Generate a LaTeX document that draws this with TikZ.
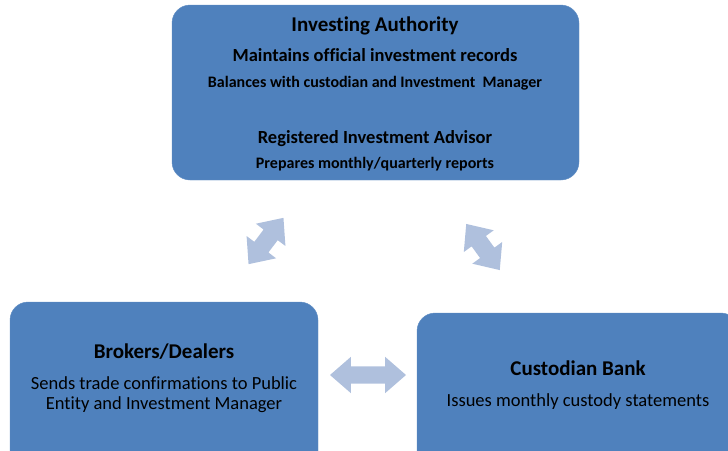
\documentclass[tikz,border=0pt]{standalone}
\usepackage{fontspec}
\setmainfont{Carlito}[Ligatures={NoCommon}]
\usetikzlibrary{shapes.arrows}

\definecolor{boxblue}{RGB}{79,129,189}
\definecolor{arrowblue}{RGB}{175,192,221}

\begin{document}
\begin{tikzpicture}[x=1pt, y=-1pt,
    box/.style={fill=boxblue, draw=boxblue!90!white, rounded corners=18pt, inner sep=0pt},
    twoway/.style={double arrow, fill=arrowblue, inner xsep=0pt, inner ysep=8.5pt,
                   double arrow head extend=9.5pt, double arrow tip angle=82},
    big/.style={anchor=base, font=\bfseries\fontsize{21}{24}\selectfont},
    mid/.style={anchor=base, font=\bfseries\fontsize{18.5}{22}\selectfont},
    small/.style={anchor=base, font=\bfseries\fontsize{16}{19}\selectfont},
    plain/.style={anchor=base, font=\fontsize{18.5}{22}\selectfont}]
    \clip (0,0) rectangle (728,450);

    % Investing Authority
    \node[box, minimum width=407pt, minimum height=175pt] (authority) at (375.5,92.5) {};
    \node[big] (authority_t) at (375,31) {Investing Authority};
    \node[mid] (records) at (375,61) {Maintains official investment records};
    \node[small] (balances) at (375,87.5) {Balances with custodian and Investment\ \ Manager};
    \node[mid] (advisor) at (375,143) {Registered Investment Advisor};
    \node[small] (reports) at (375,168) {Prepares monthly/quarterly reports};

    % Brokers/Dealers
    \node[box, minimum width=308pt, minimum height=170pt] (brokers) at (164,387) {};
    \node[big] (brokers_t) at (164,358) {Brokers/Dealers};
    \node[plain] (confirm1) at (164,389) {Sends trade confirmations to Public};
    \node[plain] (confirm2) at (164,409) {Entity and Investment Manager};

    % Custodian Bank
    \node[box, minimum width=322pt, minimum height=170pt] (custodian) at (578,398) {};
    \node[big] (custodian_t) at (578,375) {Custodian Bank};
    \node[plain] (statements) at (578,406) {Issues monthly custody statements};

    % Pfeile
    \node[twoway, minimum height=58pt, minimum width=37pt, rotate=53] (a_left) at (266,241) {};
    \node[twoway, minimum height=57pt, minimum width=37pt, rotate=-54] (a_right) at (483,247) {};
    \node[twoway, minimum height=76pt, minimum width=36pt] (a_bottom) at (368,375) {};
\end{tikzpicture}
\end{document}
